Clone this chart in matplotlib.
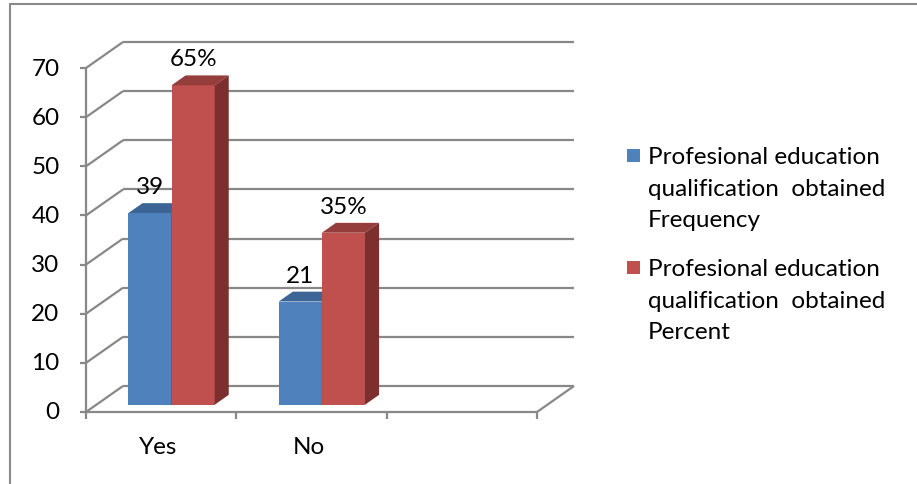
import matplotlib.pyplot as plt
from matplotlib.patches import Polygon, Rectangle

categories = ['Yes', 'No']
frequency = [39, 21]
percent = [65, 35]
frequency_labels = ['39', '21']
percent_labels = ['65%', '35%']
y_ticks = [0, 10, 20, 30, 40, 50, 60, 70]
series_names = [
    'Profesional education\nqualification  obtained\nFrequency',
    'Profesional education\nqualification  obtained\nPercent',
]

# front, top and side shades for each series
BLUE = ('#4f81bd', '#3c6596', '#2f4f75')
RED = ('#c0504d', '#943d3a', '#7c2f2d')
GRID = '#888888'

plt.rcParams['font.family'] = ['Lato', 'DejaVu Sans']
FS = 17.5

fig = plt.figure(figsize=(9.17, 4.85), dpi=100)
W_PX, H_PX = 917, 485
ax = fig.add_axes([86 / W_PX, 72 / H_PX, 451 / W_PX, 344 / H_PX])
n_slots = 3
ax.set_xlim(0, n_slots)
ax.set_ylim(0, y_ticks[-1])
ax.axis('off')

# depth of the 3-D box, converted from pixels to data units
DX = 37 / (451 / n_slots)
DY = 26 / (344 / y_ticks[-1])


def proj(x, y, d):
    return (x + d * DX, y + d * DY)


def seg(p, q, **kw):
    ax.plot([p[0], q[0]], [p[1], q[1]], color=GRID, lw=1.6,
            clip_on=False, solid_capstyle='butt', **kw)


# back wall gridlines and left wall diagonals
for v in y_ticks:
    seg(proj(0, v, 1), proj(n_slots, v, 1), zorder=1)
    seg(proj(0, v, 0), proj(0, v, 1), zorder=1)
    seg(proj(0, v, 0), (-0.04, v), zorder=1)
    ax.annotate(str(v), xy=(0, v), xytext=(-19, 0), textcoords='offset points',
                ha='right', va='center', fontsize=FS, annotation_clip=False)

# floor edges, front axis and category ticks
seg(proj(0, 0, 0), proj(n_slots, 0, 0), zorder=1)
seg(proj(n_slots, 0, 0), proj(n_slots, 0, 1), zorder=1)
seg((0, 0), (0, y_ticks[-1]), zorder=1)
for i in range(n_slots + 1):
    seg((i, 0), (i, -1.5), zorder=1)
for i, c in enumerate(categories):
    ax.annotate(c, xy=(i + 0.5, 0), xytext=(-2, -25), textcoords='offset points',
                ha='center', va='center', fontsize=FS, annotation_clip=False)

BAR_W = 0.287
D0, D1 = 0.28, 0.66


def bar3d(x0, x1, v, shades, label):
    front, top, side = shades
    faces = [
        ([proj(x0, 0, D0), proj(x1, 0, D0), proj(x1, v, D0), proj(x0, v, D0)], front),
        ([proj(x0, v, D0), proj(x1, v, D0), proj(x1, v, D1), proj(x0, v, D1)], top),
        ([proj(x1, 0, D0), proj(x1, v, D0), proj(x1, v, D1), proj(x1, 0, D1)], side),
    ]
    for pts, col in faces:
        ax.add_patch(Polygon(pts, closed=True, facecolor=col, edgecolor='none',
                             zorder=3, clip_on=False))
    ax.annotate(label, xy=proj((x0 + x1) / 2, v, D0), xytext=(0, 19),
                textcoords='offset points', ha='center', va='center',
                fontsize=FS, annotation_clip=False, zorder=5)


for i in range(len(categories)):
    c = i + 0.5
    bar3d(c - BAR_W, c, frequency[i], BLUE, frequency_labels[i])
    bar3d(c, c + BAR_W, percent[i], RED, percent_labels[i])

# legend
for k, (name, shades) in enumerate(zip(series_names, [BLUE, RED])):
    top_px = 150 + k * 112
    fig.patches.append(Rectangle((627 / W_PX, 1 - (top_px + 13) / H_PX), 13 / W_PX, 13 / H_PX,
                                 transform=fig.transFigure, facecolor=shades[0],
                                 edgecolor='none'))
    fig.text(648 / W_PX, 1 - (top_px - 3) / H_PX, name, ha='left', va='top',
             fontsize=FS, linespacing=1.63)

# chart area border
fig.patches.append(Rectangle((10 / W_PX, -0.1), 1.0, 1.1 - 5 / H_PX,
                             transform=fig.transFigure, fill=False,
                             edgecolor='#8a8a8a', lw=1.5))

fig.savefig('out.png', dpi=100)
